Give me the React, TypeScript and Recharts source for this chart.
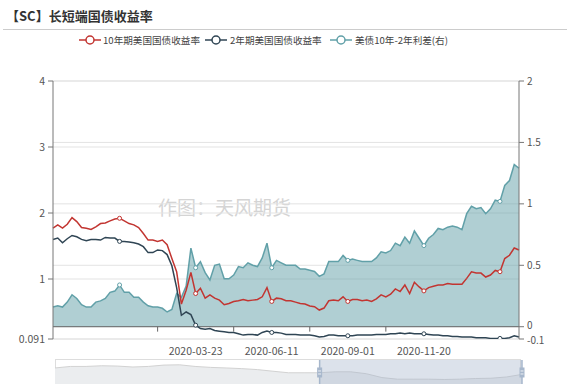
import React from "react";
import {
  ComposedChart,
  AreaChart,
  Area,
  Line,
  XAxis,
  YAxis,
  CartesianGrid,
  ReferenceLine,
  ReferenceArea,
  ReferenceDot,
} from "recharts";

// category axis (sampled trading days)
const dates = [
  "2019-10-23", "2019-10-28", "2019-11-01", "2019-11-06", "2019-11-11", "2019-11-15", "2019-11-20", "2019-11-26",
  "2019-12-02", "2019-12-05", "2019-12-11", "2019-12-16", "2019-12-20", "2019-12-27", "2020-01-02", "2020-01-08",
  "2020-01-13", "2020-01-17", "2020-01-23", "2020-01-29", "2020-02-03", "2020-02-07", "2020-02-13", "2020-02-19",
  "2020-02-24", "2020-02-28", "2020-03-04", "2020-03-09", "2020-03-13", "2020-03-18", "2020-03-23", "2020-03-27",
  "2020-04-02", "2020-04-07", "2020-04-13", "2020-04-17", "2020-04-22", "2020-04-27", "2020-05-01", "2020-05-07",
  "2020-05-12", "2020-05-18", "2020-05-22", "2020-05-27", "2020-06-01", "2020-06-05", "2020-06-11", "2020-06-16",
  "2020-06-22", "2020-06-26", "2020-07-01", "2020-07-07", "2020-07-10", "2020-07-16", "2020-07-21", "2020-07-27",
  "2020-07-31", "2020-08-05", "2020-08-11", "2020-08-17", "2020-08-21", "2020-08-26", "2020-09-01", "2020-09-04",
  "2020-09-11", "2020-09-16", "2020-09-21", "2020-09-25", "2020-10-01", "2020-10-06", "2020-10-09", "2020-10-15",
  "2020-10-20", "2020-10-26", "2020-10-30", "2020-11-04", "2020-11-10", "2020-11-16", "2020-11-20", "2020-11-25",
  "2020-12-02", "2020-12-07", "2020-12-11", "2020-12-16", "2020-12-21", "2020-12-28", "2021-01-04", "2021-01-08",
  "2021-01-13", "2021-01-19", "2021-01-22", "2021-01-27", "2021-02-01", "2021-02-04", "2021-02-09", "2021-02-12",
  "2021-02-18", "2021-02-23", "2021-02-26",
];

// 10年期美国国债收益率
const tenYear = [
  1.77, 1.82, 1.77, 1.83, 1.93, 1.87, 1.78, 1.77, 1.75, 1.79, 1.84, 1.85, 1.88, 1.91, 1.92, 1.88,
  1.84, 1.82, 1.78, 1.69, 1.59, 1.59, 1.57, 1.59, 1.52, 1.31, 1.11, 0.62, 0.83, 1.1, 0.78, 0.86,
  0.71, 0.76, 0.71, 0.68, 0.61, 0.63, 0.66, 0.67, 0.69, 0.67, 0.68, 0.69, 0.73, 0.87, 0.66, 0.71,
  0.7, 0.67, 0.67, 0.65, 0.63, 0.62, 0.59, 0.58, 0.53, 0.56, 0.67, 0.68, 0.67, 0.73, 0.66, 0.69,
  0.69, 0.67, 0.68, 0.66, 0.7, 0.76, 0.73, 0.77, 0.85, 0.81, 0.91, 0.78, 0.95, 0.88, 0.82, 0.87,
  0.89, 0.91, 0.91, 0.93, 0.92, 0.92, 0.92, 1.01, 1.11, 1.09, 1.09, 1.03, 1.06, 1.13, 1.11, 1.31,
  1.36, 1.47, 1.44,
];

// 2年期美国国债收益率
const twoYear = [
  1.6, 1.62, 1.55, 1.61, 1.66, 1.64, 1.6, 1.58, 1.6, 1.6, 1.59, 1.63, 1.62, 1.62, 1.57, 1.57,
  1.56, 1.55, 1.53, 1.49, 1.4, 1.4, 1.44, 1.43, 1.37, 1.2, 0.87, 0.45, 0.5, 0.46, 0.3, 0.25,
  0.24, 0.25, 0.22, 0.21, 0.2, 0.19, 0.19, 0.17, 0.15, 0.16, 0.16, 0.15, 0.19, 0.21, 0.19, 0.19,
  0.18, 0.16, 0.16, 0.16, 0.15, 0.15, 0.15, 0.14, 0.12, 0.13, 0.15, 0.15, 0.14, 0.14, 0.14, 0.14,
  0.15, 0.15, 0.15, 0.15, 0.16, 0.16, 0.16, 0.17, 0.17, 0.18, 0.17, 0.18, 0.17, 0.17, 0.17, 0.16,
  0.15, 0.15, 0.14, 0.14, 0.13, 0.13, 0.12, 0.12, 0.12, 0.11, 0.11, 0.11, 0.1, 0.1, 0.1, 0.1,
  0.11, 0.14, 0.12,
];

// 美债10年-2年利差(右)
const spread = [
  0.16, 0.17, 0.16, 0.2, 0.26, 0.23, 0.18, 0.16, 0.16, 0.2, 0.21, 0.23, 0.28, 0.29, 0.34, 0.28,
  0.28, 0.24, 0.24, 0.2, 0.17, 0.16, 0.16, 0.15, 0.12, 0.14, 0.27, 0.24, 0.33, 0.64, 0.48, 0.53,
  0.44, 0.38, 0.5, 0.51, 0.39, 0.39, 0.42, 0.49, 0.48, 0.52, 0.5, 0.49, 0.56, 0.68, 0.48, 0.54,
  0.52, 0.5, 0.5, 0.5, 0.47, 0.47, 0.46, 0.45, 0.41, 0.43, 0.53, 0.53, 0.53, 0.58, 0.54, 0.55,
  0.54, 0.53, 0.53, 0.53, 0.56, 0.61, 0.6, 0.62, 0.68, 0.66, 0.73, 0.68, 0.78, 0.72, 0.66, 0.72,
  0.75, 0.8, 0.79, 0.81, 0.82, 0.81, 0.79, 0.92, 0.98, 0.96, 0.97, 0.92, 0.96, 1.03, 1.02, 1.15,
  1.19, 1.32, 1.29,
];

const labelDates = ["2020-03-23", "2020-06-11", "2020-09-01", "2020-11-20"];
const tickMarkDates = ["2020-02-13", "2020-05-01", "2020-07-21", "2020-10-09"];
const markerDates = ["2020-01-02", ...labelDates, "2021-02-09"];
const leftTicks = [0.091, 1, 2, 3, 4];
const rightTicks = [-0.1, 0, 0.5, 1, 1.5, 2];

// dataZoom slider shadow (full history) and selected window
const shadowLevels = [
  16.7, 18.3, 18.3, 19, 18.7, 17.7, 18.3, 19.7, 20, 18.3, 17.3, 16.7, 16, 15, 13.3, 11.7,
  11.7, 11.7, 12.7, 12.7, 10.7, 6.7, 5, 5, 5, 4.7, 5, 5.7, 6, 7.3, 10,
];
const windowStart = 17;
const windowEnd = 30;

const RED = "#c23531";
const NAVY = "#2f4554";
const TEAL = "#61a0a8";
const FONT = "'Noto Sans CJK SC', 'Noto Sans', sans-serif";

const chartData = dates.map((date, i) => ({
  date,
  tenYear: tenYear[i],
  twoYear: twoYear[i],
  spread: spread[i],
}));

const sliderData = shadowLevels.map((v, i) => ({ i, v }));

const legendItems = [
  { name: "10年期美国国债收益率", color: RED, iconX: 79, textX: 103 },
  { name: "2年期美国国债收益率", color: NAVY, iconX: 205, textX: 230 },
  { name: "美债10年-2年利差(右)", color: TEAL, iconX: 330, textX: 355 },
];

const makeDot = (color: string) => (props: any) => {
  const { cx, cy, payload, index } = props;
  if (!markerDates.includes(payload.date)) return <g key={`d${index}`} />;
  return <circle key={`d${index}`} cx={cx} cy={cy} r={2} fill="#fff" stroke={color} strokeWidth={1} />;
};

const XTick = (props: any) => {
  const { x, y, payload } = props;
  return (
    <text x={x} y={y + 16} textAnchor="middle" fill="#555" fontSize={10.5}>
      {payload.value}
    </text>
  );
};

// right axis labels: the two lowest sit close together, nudge them apart a little
const RightTick = (props: any) => {
  const { x, y, payload } = props;
  const nudge = payload.value === -0.1 ? 1.5 : payload.value === 0 ? -1.5 : 0;
  return (
    <text x={x} y={y + nudge} dy="0.35em" textAnchor="start" fill="#555" fontSize={10}>
      {String(payload.value)}
    </text>
  );
};

const Handle = (props: any) => {
  const { cx, cy } = props;
  return (
    <g>
      <rect x={cx - 2.5} y={cy - 5} width={5} height={10} fill="#a7b7cc" />
      <line x1={cx - 1.5} x2={cx + 1.5} y1={cy - 1.5} y2={cy - 1.5} stroke="#fff" strokeWidth={0.8} />
      <line x1={cx - 1.5} x2={cx + 1.5} y1={cy + 1.5} y2={cy + 1.5} stroke="#fff" strokeWidth={0.8} />
    </g>
  );
};

export default function App() {
  return (
    <div style={{ position: "relative", width: 567, height: 388, fontFamily: FONT, background: "#fff", overflow: "hidden" }}>
      <style>{"body{margin:0}"}</style>
      <div style={{ position: "absolute", left: 6, top: 9, fontSize: 13, lineHeight: "13px", fontWeight: "bold", color: "#333", whiteSpace: "nowrap" }}>
        【SC】长短端国债收益率
      </div>
      <div style={{ position: "absolute", left: 3, top: 29, width: 564, height: 1, background: "#ccc" }} />
      {legendItems.map((it) => (
        <React.Fragment key={it.name}>
          <svg style={{ position: "absolute", left: it.iconX, top: 34 }} width={22} height={12}>
            <line x1={0} x2={22} y1={6} y2={6} stroke={it.color} strokeWidth={1.5} />
            <circle cx={11} cy={6} r={4} fill="#fff" stroke={it.color} strokeWidth={1.5} />
          </svg>
          <div style={{ position: "absolute", left: it.textX, top: 34, fontSize: 9.6, lineHeight: "12px", color: "#444", whiteSpace: "nowrap" }}>
            {it.name}
          </div>
        </React.Fragment>
      ))}
      <div style={{ position: "absolute", left: 158, top: 196, fontSize: 19, lineHeight: "22px", color: "#d4d4d4", whiteSpace: "nowrap" }}>
        作图：天风期货
      </div>

      <ComposedChart
        width={567}
        height={388}
        data={chartData}
        margin={{ top: 81, right: 8, bottom: 19, left: 8 }}
        style={{ position: "absolute", left: 0, top: 0 }}
      >
        <CartesianGrid vertical={false} yAxisId="left" stroke="#e3e3e3" />
        <CartesianGrid vertical={false} yAxisId="right" stroke="#e3e3e3" />
        <XAxis
          dataKey="date"
          ticks={labelDates}
          interval={0}
          tickLine={false}
          axisLine={false}
          tickSize={0}
          tickMargin={0}
          height={30}
          tick={<XTick />}
        />
        <YAxis
          yAxisId="left"
          type="number"
          domain={[0.091, 4]}
          ticks={leftTicks}
          interval={0}
          allowDataOverflow
          width={45}
          tickSize={5}
          tickMargin={3}
          axisLine={{ stroke: "#777" }}
          tickLine={{ stroke: "#777" }}
          tick={{ fill: "#555", fontSize: 10.5 }}
        />
        <YAxis
          yAxisId="right"
          orientation="right"
          type="number"
          domain={[-0.1, 2]}
          ticks={rightTicks}
          interval={0}
          allowDataOverflow
          width={40}
          tickSize={5}
          tickMargin={3}
          axisLine={{ stroke: "#777" }}
          tickLine={{ stroke: "#777" }}
          tick={<RightTick />}
        />
        <Area
          yAxisId="right"
          type="linear"
          dataKey="spread"
          stroke={TEAL}
          strokeWidth={1.5}
          fill={TEAL}
          fillOpacity={0.5}
          baseValue={0}
          dot={makeDot(TEAL)}
          activeDot={false}
          isAnimationActive={false}
        />
        <ReferenceLine yAxisId="right" y={0} stroke="#666" />
        {tickMarkDates.map((d) => (
          <ReferenceLine
            key={d}
            yAxisId="right"
            segment={[
              { x: d, y: 0 },
              { x: d, y: -0.04 },
            ]}
            stroke="#666"
          />
        ))}
        <Line
          yAxisId="left"
          type="linear"
          dataKey="twoYear"
          stroke={NAVY}
          strokeWidth={1.5}
          dot={makeDot(NAVY)}
          activeDot={false}
          isAnimationActive={false}
        />
        <Line
          yAxisId="left"
          type="linear"
          dataKey="tenYear"
          stroke={RED}
          strokeWidth={1.5}
          dot={makeDot(RED)}
          activeDot={false}
          isAnimationActive={false}
        />
      </ComposedChart>

      <div style={{ position: "absolute", left: 55, top: 359, width: 466, height: 25, border: "1px solid #ddd", boxSizing: "border-box" }} />
      <AreaChart
        width={567}
        height={26}
        data={sliderData}
        margin={{ top: 1, right: 45, bottom: 1, left: 55 }}
        style={{ position: "absolute", left: 0, top: 359 }}
      >
        <XAxis dataKey="i" type="number" domain={[0, shadowLevels.length - 1]} hide />
        <YAxis type="number" domain={[0, 25]} hide />
        <Area
          type="linear"
          dataKey="v"
          stroke="#d2d2d2"
          strokeWidth={1}
          fill="#ebedef"
          fillOpacity={1}
          dot={false}
          activeDot={false}
          isAnimationActive={false}
        />
        <ReferenceArea x1={windowStart} x2={windowEnd} y1={0} y2={25} fill="#a7b7cc" fillOpacity={0.4} stroke="none" />
        <ReferenceLine x={windowStart} stroke="#a7b7cc" strokeWidth={1.5} />
        <ReferenceLine x={windowEnd} stroke="#a7b7cc" strokeWidth={1.5} />
        <ReferenceDot x={windowStart} y={12} r={4} shape={<Handle />} />
        <ReferenceDot x={windowEnd} y={12} r={4} shape={<Handle />} />
      </AreaChart>
    </div>
  );
}
